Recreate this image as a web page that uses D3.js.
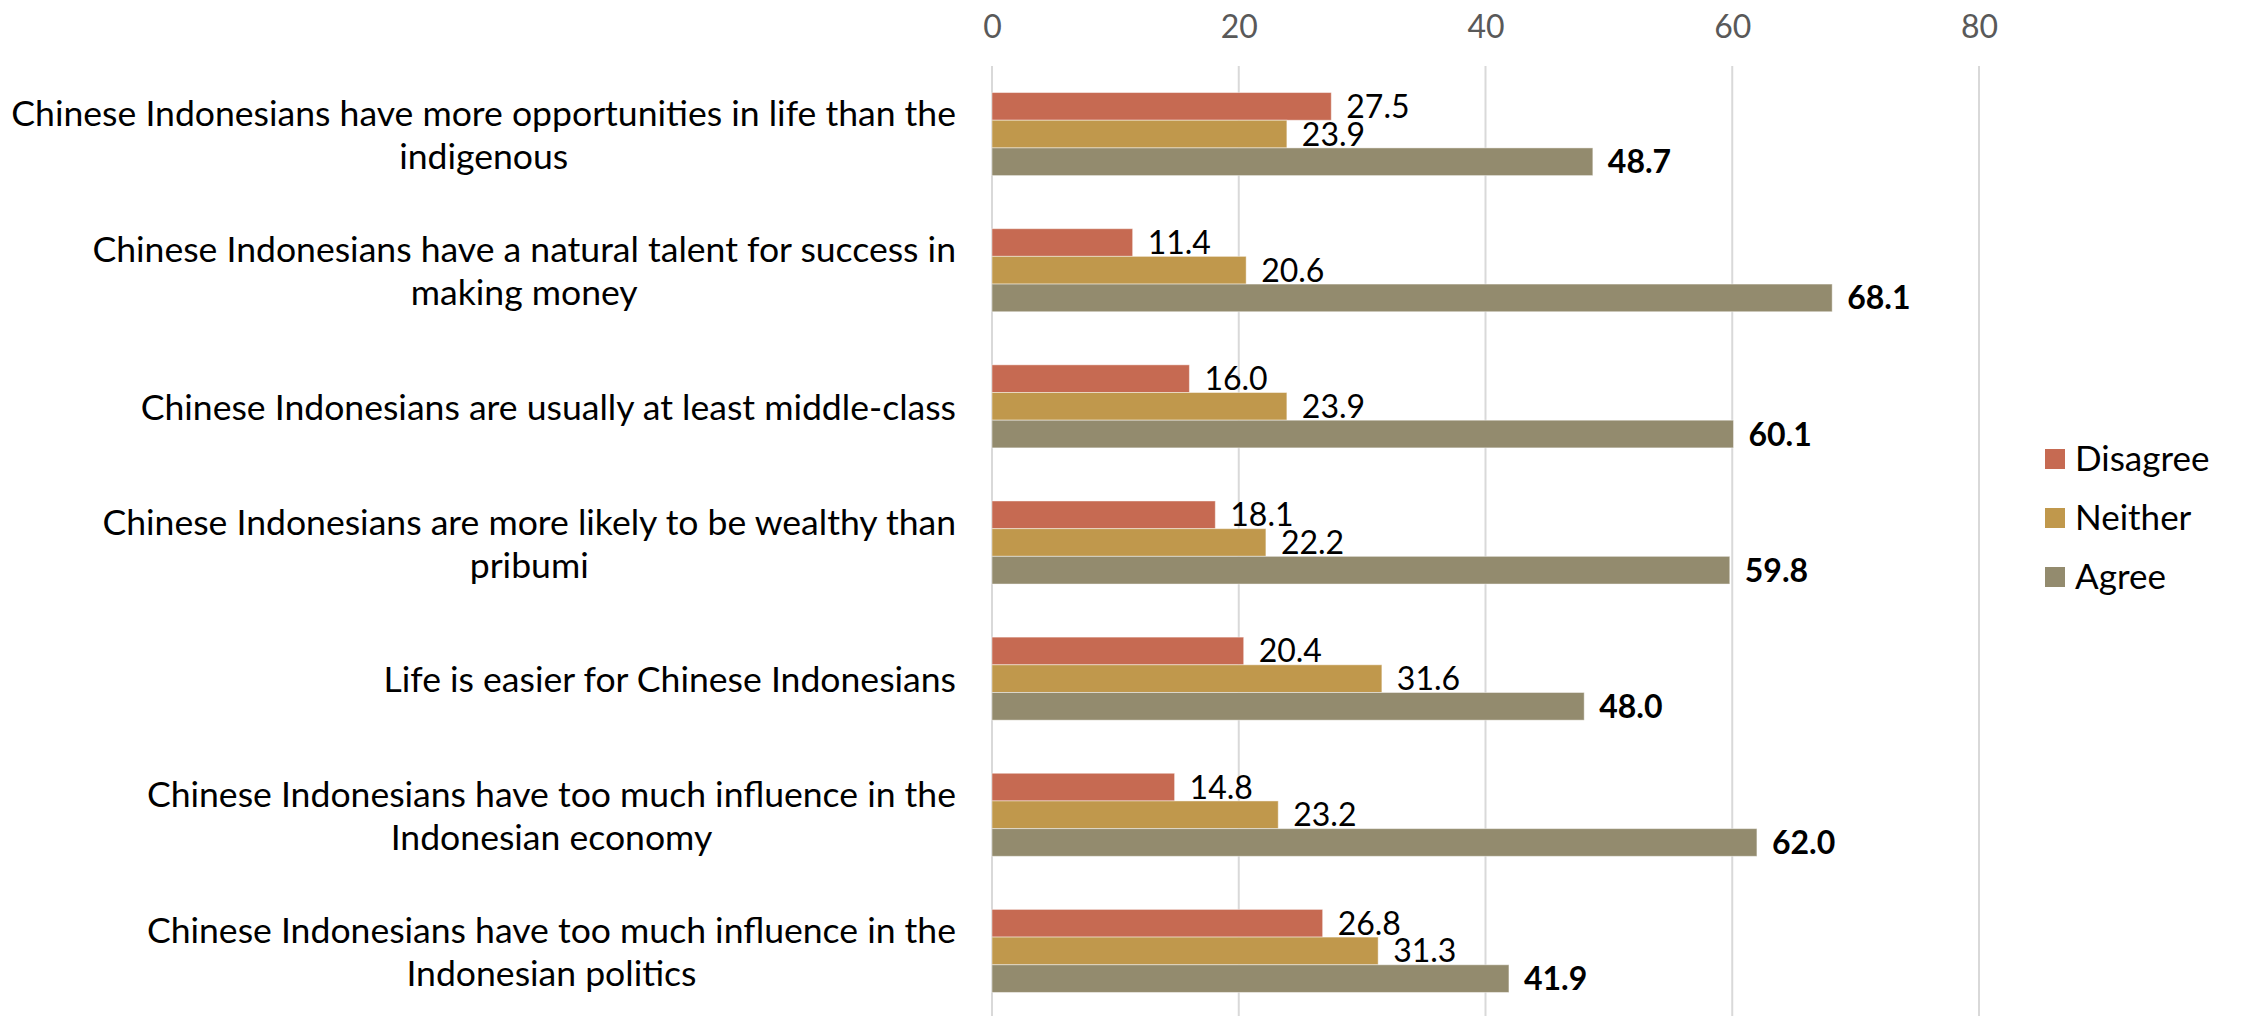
<!DOCTYPE html>
<html>
<head>
<meta charset="utf-8">
<script src="https://cdn.jsdelivr.net/npm/d3@7"></script>
<style>
  html, body { margin: 0; padding: 0; background: #ffffff; }
  svg { display: block; }
</style>
</head>
<body>
<svg id="chart" width="2244" height="1016"></svg>
<script>
// Survey statements, each split into its display lines
const categories = [
  ["Chinese Indonesians have more opportunities in life than the", "indigenous"],
  ["Chinese Indonesians have a natural talent for success in", "making money"],
  ["Chinese Indonesians are usually at least middle-class"],
  ["Chinese Indonesians are more likely to be wealthy than", "pribumi"],
  ["Life is easier for Chinese Indonesians"],
  ["Chinese Indonesians have too much influence in the", "Indonesian economy"],
  ["Chinese Indonesians have too much influence in the", "Indonesian politics"]
];
const seriesNames = ["Disagree", "Neither", "Agree"];
const disagree = [27.5, 11.4, 16.0, 18.1, 20.4, 14.8, 26.8];
const neither  = [23.9, 20.6, 23.9, 22.2, 31.6, 23.2, 31.3];
const agree    = [48.7, 68.1, 60.1, 59.8, 48.0, 62.0, 41.9];
const tickValues = [0, 20, 40, 60, 80];

const colors = { Disagree: "#c66a52", Neither: "#c0984c", Agree: "#938b6e" };
const seriesValues = { Disagree: disagree, Neither: neither, Agree: agree };

const svg = d3.select("#chart");
const FONT = "Lato, 'Open Sans', sans-serif";

const x = d3.scaleLinear().domain([0, 80]).range([992, 1979]);
const y = d3.scaleBand()
  .domain(d3.range(categories.length))
  .range([66, 1019])
  .paddingInner(0.39)
  .paddingOuter(0.195);
const yInner = d3.scaleBand()
  .domain(seriesNames)
  .range([0, y.bandwidth()]);

// Vertical gridlines
svg.append("g")
  .selectAll("line")
  .data(tickValues)
  .join("line")
  .attr("x1", d => x(d)).attr("x2", d => x(d))
  .attr("y1", 66).attr("y2", 1016)
  .attr("stroke", "#d9d9d9")
  .attr("stroke-width", 2);

// Top axis labels
const axis = d3.axisTop(x).tickValues(tickValues).tickSize(0).tickPadding(0);
const axisG = svg.append("g").attr("transform", "translate(0,38)").call(axis);
axisG.select(".domain").remove();
axisG.selectAll("text")
  .attr("font-family", FONT)
  .attr("font-size", 32)
  .attr("fill", "#595959");

// Bars
const groups = svg.append("g")
  .selectAll("g")
  .data(categories.map((c, i) => i))
  .join("g")
  .attr("transform", i => `translate(0,${y(i)})`);

groups.selectAll("rect")
  .data(i => seriesNames.map(s => ({ s, v: seriesValues[s][i] })))
  .join("rect")
  .attr("x", x(0))
  .attr("y", d => yInner(d.s))
  .attr("width", d => x(d.v) - x(0))
  .attr("height", yInner.bandwidth())
  .attr("fill", d => colors[d.s])
  .attr("stroke", "#ffffff")
  .attr("stroke-opacity", 0.45)
  .attr("stroke-width", 1);

// Value labels, digits centred on their bar
const valSize = 32;
groups.selectAll("text.val")
  .data(i => seriesNames.map(s => ({ s, v: seriesValues[s][i] })))
  .join("text")
  .attr("class", "val")
  .attr("x", d => x(d.v) + 15)
  .attr("y", d => yInner(d.s) + yInner.bandwidth() / 2 + valSize * 0.36)
  .attr("font-family", FONT)
  .attr("font-size", valSize)
  .attr("font-weight", d => d.s === "Agree" ? 700 : 400)
  .attr("fill", "#000")
  .text(d => d.v.toFixed(1));

// Category labels: block right aligned next to the plot, lines centred in the block
const labelRight = 956;
const labelLeft = 11;
const lineGap = 43;
const baseSize = 33;
const catG = svg.append("g");
const catText = catG.selectAll("text")
  .data(categories.map((lines, i) => ({ lines, i })))
  .join("text")
  .attr("text-anchor", "middle")
  .attr("font-family", FONT)
  .attr("font-size", baseSize)
  .attr("fill", "#000");
catText.selectAll("tspan")
  .data(d => d.lines.map((t, k) => ({ t, k, n: d.lines.length, i: d.i })))
  .join("tspan")
  .attr("y", d => y(d.i) + y.bandwidth() / 2 + (d.k - (d.n - 1) / 2) * lineGap)
  .attr("dominant-baseline", "central")
  .text(d => d.t);

// Size the font so the widest line fills the label column
let widest = 0;
catText.selectAll("tspan").each(function () {
  widest = Math.max(widest, this.getComputedTextLength());
});
const fitSize = baseSize * (labelRight - labelLeft) / widest;
catText.attr("font-size", fitSize);

catText.each(function () {
  const t = d3.select(this);
  let w = 0;
  t.selectAll("tspan").each(function () { w = Math.max(w, this.getComputedTextLength()); });
  t.selectAll("tspan").attr("x", labelRight - w / 2);
});

// Legend
const legend = svg.append("g").attr("transform", "translate(2045,459)");
const item = legend.selectAll("g")
  .data(seriesNames)
  .join("g")
  .attr("transform", (d, i) => `translate(0,${i * 59})`);
item.append("rect")
  .attr("x", 0).attr("y", -10)
  .attr("width", 20).attr("height", 20)
  .attr("fill", d => colors[d]);
item.append("text")
  .attr("x", 30).attr("y", 12)
  .attr("font-family", FONT)
  .attr("font-size", 35)
  .attr("fill", "#000")
  .text(d => d);
</script>
</body>
</html>
